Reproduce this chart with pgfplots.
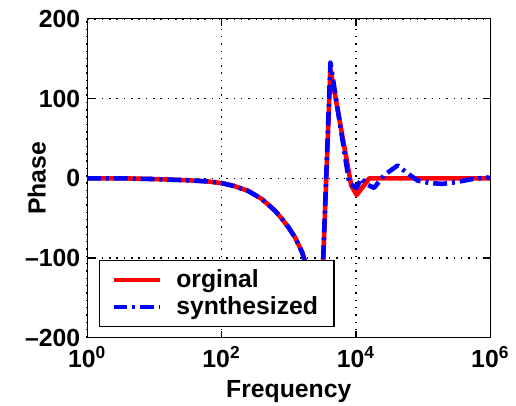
\documentclass[border=0pt]{standalone}
\usepackage{pgfplots}
\pgfplotsset{compat=1.18}
\usepackage{fontspec}
\setmainfont{Liberation Sans}

\newcommand{\lblfont}{\fontsize{12.5}{14}\selectfont\bfseries}

\begin{document}
\begin{tikzpicture}
\begin{axis}[
    name=ax,
    scale only axis,
    width=203.5pt, height=161pt,
    xmode=log,
    xmin=1, xmax=1e6, ymin=-200, ymax=200,
    xtick={1,100,1e4,1e6},
    xticklabels={10\textsuperscript{0},10\textsuperscript{2},10\textsuperscript{4},10\textsuperscript{6}},
    xminorticks=false,
    ytick={-200,-100,0,100,200},
    yticklabels={--200,--100,0,100,200},
    tick label style={font=\lblfont},
    xticklabel style={yshift=-1pt},
    label style={font=\lblfont},
    xlabel={Frequency}, ylabel={Phase},
    xlabel style={at={(axis description cs:0.5,0)}, anchor=north, inner sep=0pt, yshift=-21.5pt},
    ylabel style={at={(axis description cs:0,0.5)}, anchor=center, yshift=25.5pt},
    grid=major,
    major grid style={black, line width=0.7pt, dash pattern=on 0.7pt off 3pt},
    axis line style={black, line width=0.6pt},
    tick style={black, line width=0.6pt},
    major tick length=3.5pt,
    legend style={at={(0.029,0.034)}, anchor=south west, draw=black, line width=0.6pt,
        font=\lblfont, row sep=-1pt,
        inner xsep=6pt, inner ysep=2.5pt,
        /tikz/every odd column/.append style={column sep=5pt}},
    legend cell align=left,
    legend image code/.code={\draw[#1] (0pt,0pt) -- (23.5pt,0pt);},
]
\addplot[red, line width=2.3pt, line join=round] coordinates {
    (1,0) (3.16,0) (10,-1) (31.6,-2.5) (63.1,-4) (100,-6) (158.5,-10) (251,-16)
    (398,-26) (631,-41) (794,-51) (1000,-62) (1259,-75) (1585,-93) (1995,-122)
    (2512,-160) (2818,-172) (3020,-176)
    (4169,137) (8511,-9) (10233,-21) (15849,0) (1e5,0) (1e6,0)
};
\addlegendentry{orginal}
\addplot[blue, line width=2.3pt, line join=round, dash pattern=on 7pt off 2.5pt on 1.5pt off 2.5pt] coordinates {
    (1,0) (3.16,0) (10,-1) (31.6,-2.5) (63.1,-4) (100,-6) (158.5,-10) (251,-16)
    (398,-26) (631,-41) (794,-51) (1000,-62) (1259,-75) (1585,-93) (1995,-122)
    (2512,-160) (2818,-172) (3020,-176)
    (4169,145) (7943,-6) (10233,-12) (12023,0) (14791,-8) (18621,-12)
    (26303,4) (41687,16) (58884,6) (83176,-3) (125893,-6) (194984,-7)
    (301995,-5) (537032,-1) (912011,1) (1e6,0)
};
\addlegendentry{synthesized}
\end{axis}
\path (ax.south west) ++(-44pt,-34pt);
\path (ax.north east) ++(10.5pt,9.5pt);
\end{tikzpicture}
\end{document}
